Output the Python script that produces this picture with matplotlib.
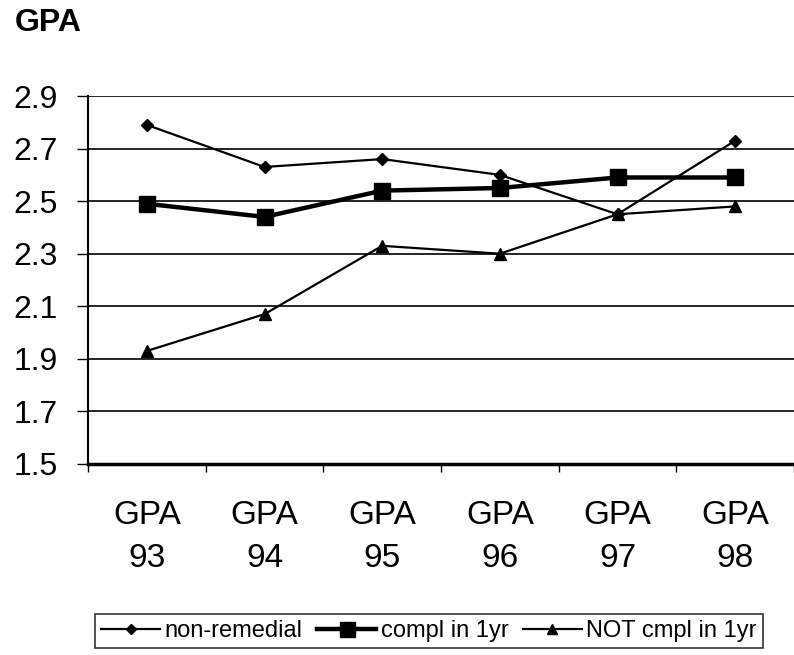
import matplotlib
matplotlib.use("Agg")
import matplotlib.pyplot as plt
import numpy as np

categories = ["GPA\n93", "GPA\n94", "GPA\n95", "GPA\n96", "GPA\n97", "GPA\n98"]
non_remedial = [2.79, 2.63, 2.66, 2.60, 2.45, 2.73]
compl_1yr = [2.49, 2.44, 2.54, 2.55, 2.59, 2.59]
not_compl_1yr = [1.93, 2.07, 2.33, 2.30, 2.45, 2.48]
yticks = [1.5, 1.7, 1.9, 2.1, 2.3, 2.5, 2.7, 2.9]

plt.rcParams['font.family'] = ['Liberation Sans', 'DejaVu Sans']

fig = plt.figure(figsize=(7.94, 6.55), dpi=100)
ax = fig.add_axes([88/794, 1-464/655, (794-88)/794, (464-96)/655])

x = np.arange(len(categories))
ax.plot(x, non_remedial, color='black', lw=1.6, marker='D', ms=6, label='non-remedial')
ax.plot(x, compl_1yr, color='black', lw=3.2, marker='s', ms=12, label='compl in 1yr')
ax.plot(x, not_compl_1yr, color='black', lw=1.6, marker='^', ms=8, label='NOT cmpl in 1yr')

ax.set_xlim(-0.5, len(categories) - 0.5)
ax.set_ylim(1.5, 2.9)
ax.set_yticks(yticks)
ax.set_yticklabels([f"{v:.1f}" for v in yticks], fontsize=23)
ax.yaxis.grid(True, color='black', lw=1.2)
ax.set_axisbelow(True)

ax.set_xticks(x)
ax.set_xticklabels(categories, fontsize=24, linespacing=1.5)
ax.tick_params(axis='x', length=0, pad=26)
ax.set_xticks(np.arange(-0.5, len(categories)), minor=True)
ax.tick_params(axis='x', which='minor', length=6, width=1, direction='out')
ax.tick_params(axis='y', length=8, width=1, direction='out', pad=14)

for s in ['top', 'right']:
    ax.spines[s].set_visible(False)
ax.spines['left'].set_linewidth(1.5)
ax.spines['bottom'].set_linewidth(2.5)

fig.text(15/794, 1-23/655, "GPA", fontsize=23, fontweight='bold', va='center', ha='left')

leg = fig.legend(loc='center', bbox_to_anchor=(429/794, 1-631/655), ncol=3,
                 fontsize=17, frameon=True, fancybox=False, edgecolor='black',
                 handlelength=2.5, handletextpad=0.2, columnspacing=0.6,
                 borderpad=0.25, markerscale=0.9)
leg.get_frame().set_linewidth(1.2)

fig.savefig("out.png", dpi=100)
